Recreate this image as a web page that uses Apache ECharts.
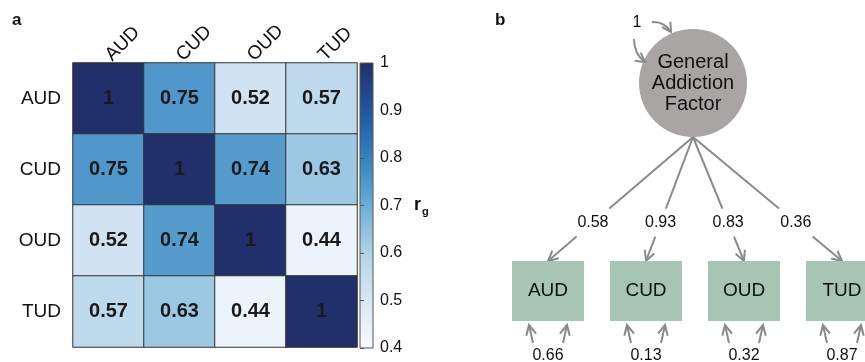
<!DOCTYPE html>
<html>
<head>
<meta charset="utf-8">
<script src="https://cdn.jsdelivr.net/npm/echarts@6/dist/echarts.min.js"></script>
<style>html,body{margin:0;padding:0;background:#fff}#c{width:865px;height:362px}</style>
</head>
<body>
<div id="c"></div>
<script>
// ---------- DATA ----------
const traits = ['AUD', 'CUD', 'OUD', 'TUD'];
const rgAUD = [1, 0.75, 0.52, 0.57];
const rgCUD = [0.75, 1, 0.74, 0.63];
const rgOUD = [0.52, 0.74, 1, 0.44];
const rgTUD = [0.57, 0.63, 0.44, 1];
const rgRows = [rgAUD, rgCUD, rgOUD, rgTUD];
const loadings = [0.58, 0.93, 0.83, 0.36];
const residuals = [0.66, 0.13, 0.32, 0.87];
const factorVariance = 1;
const factorName = 'General\nAddiction\nFactor';
const scaleMin = 0.4, scaleMax = 1.0;
const scaleColors = ['#f7fbff', '#d9e7f5', '#b3d3e8', '#6aaed6', '#3582c0', '#1f56a1', '#21306a'];

// ---------- LAYOUT (diagram, pixel space) ----------
const FONT = '"Liberation Sans", Arial, Helvetica, sans-serif';
const FAC = { x: 693, y: 83, r: 54 };
const BOX = { xs: [548, 646, 744, 842], cy: 291, w: 72, h: 60 };
const LABEL_T = 0.69;
const LINE_COL = '#8a8a8a';

const heatData = [];
rgRows.forEach((row, i) => row.forEach((v, j) => heatData.push([j, i, v])));

const chart = echarts.init(document.getElementById('c'), null, { renderer: 'canvas' });

function chevron(tip, dir, len, half) {
  const nx = -dir[1], ny = dir[0];
  const bx = tip[0] - dir[0] * len, by = tip[1] - dir[1] * len;
  return {
    type: 'polyline',
    shape: { points: [[bx + nx * half, by + ny * half], tip, [bx - nx * half, by - ny * half]] },
    style: { stroke: LINE_COL, lineWidth: 2, fill: null, lineJoin: 'miter' }
  };
}
function unit(a, b) {
  const dx = b[0] - a[0], dy = b[1] - a[1], l = Math.hypot(dx, dy);
  return [dx / l, dy / l];
}
function txt(str, x, y, size, weight) {
  return {
    type: 'text',
    style: { text: str, x: x, y: y, fill: '#111', font: (weight || 'normal') + ' ' + size + 'px ' + FONT,
      align: 'center', verticalAlign: 'middle', textAlign: 'center', textVerticalAlign: 'middle' }
  };
}

function renderDiagram(params, api) {
  const i = api.value(0), load = api.value(1), res = api.value(2);
  const P = (x, y) => api.coord([x, y]);
  const children = [];
  const F = P(FAC.x, FAC.y + FAC.r);
  const bx = BOX.xs[i];
  const T = P(bx, BOX.cy - BOX.h / 2);
  const d = unit(F, T);
  const L = [F[0] + (T[0] - F[0]) * LABEL_T, F[1] + (T[1] - F[1]) * LABEL_T];
  const dt = 14 / (T[1] - F[1]);
  const a0 = LABEL_T - dt, a1 = LABEL_T + dt;
  children.push({ type: 'line', shape: { x1: F[0], y1: F[1], x2: F[0] + (T[0] - F[0]) * a0, y2: F[1] + (T[1] - F[1]) * a0 },
    style: { stroke: LINE_COL, lineWidth: 2 } });
  children.push({ type: 'line', shape: { x1: F[0] + (T[0] - F[0]) * a1, y1: F[1] + (T[1] - F[1]) * a1, x2: T[0], y2: T[1] },
    style: { stroke: LINE_COL, lineWidth: 2 } });
  children.push(chevron(T, d, 10, 5));
  children.push(txt(String(load), L[0], L[1], 16));
  // box
  const tl = P(bx - BOX.w / 2, BOX.cy - BOX.h / 2), br = P(bx + BOX.w / 2, BOX.cy + BOX.h / 2);
  children.push({ type: 'rect', shape: { x: tl[0], y: tl[1], width: br[0] - tl[0], height: br[1] - tl[1] },
    style: { fill: '#a6c5b4' } });
  const C = P(bx, BOX.cy);
  children.push(txt(traits[i], C[0], C[1], 19));
  // residual arrows
  const bot = BOX.cy + BOX.h / 2;
  [-1, 1].forEach(s => {
    const tail = P(bx + s * 15, bot + 22), tip = P(bx + s * 19, bot + 4);
    children.push({ type: 'line', shape: { x1: tail[0], y1: tail[1], x2: tip[0], y2: tip[1] }, style: { stroke: LINE_COL, lineWidth: 2 } });
    children.push(chevron(tip, unit(tail, tip), 10, 5));
  });
  const R = P(bx, bot + 35);
  children.push(txt(String(res), R[0], R[1], 16));

  if (i === 0) {
    const FC = P(FAC.x, FAC.y);
    children.push({ type: 'circle', shape: { cx: FC[0], cy: FC[1], r: FAC.r }, style: { fill: '#a9a5a5' } });
    const lines = factorName.split('\n');
    lines.forEach((ln, k) => children.push(txt(ln, FC[0], FC[1] - 21 + k * 21, 20)));
    // variance loop
    const s1 = P(652, 22), c1 = P(664, 21), e1 = P(671, 32);
    children.push({ type: 'bezierCurve', shape: { x1: s1[0], y1: s1[1], cpx1: c1[0], cpy1: c1[1], x2: e1[0], y2: e1[1] },
      style: { stroke: LINE_COL, lineWidth: 2, fill: null } });
    children.push(chevron(e1, unit(c1, e1), 9, 5));
    const s2 = P(634, 39), c2 = P(634, 54), e2 = P(645, 62);
    children.push({ type: 'bezierCurve', shape: { x1: s2[0], y1: s2[1], cpx1: c2[0], cpy1: c2[1], x2: e2[0], y2: e2[1] },
      style: { stroke: LINE_COL, lineWidth: 2, fill: null } });
    children.push(chevron(e2, unit(c2, e2), 9, 5));
    const V = P(637, 23);
    children.push(txt(String(factorVariance), V[0], V[1], 16));
  }
  return { type: 'group', children: children };
}

const option = {
  animation: false,
  backgroundColor: '#fff',
  textStyle: { fontFamily: FONT },
  grid: [
    { left: 73, top: 63, width: 284, height: 284 },
    { left: 360, top: 63, width: 13, height: 285, show: true, borderColor: '#555', borderWidth: 1,
      backgroundColor: new echarts.graphic.LinearGradient(0, 0, 0, 1,
        scaleColors.slice().reverse().map((c, k) => ({ offset: k / (scaleColors.length - 1), color: c }))) },
    { left: 0, top: 0, width: 865, height: 362 }
  ],
  xAxis: [
    { gridIndex: 0, type: 'category', data: traits, position: 'top',
      axisLine: { show: false }, axisTick: { show: false },
      axisLabel: { rotate: -45, fontSize: 19, color: '#111', margin: 5, fontFamily: FONT } },
    { gridIndex: 1, type: 'value', show: false },
    { gridIndex: 2, type: 'value', min: 0, max: 865, show: false }
  ],
  yAxis: [
    { gridIndex: 0, type: 'category', data: traits, inverse: true,
      axisLine: { show: false }, axisTick: { show: false },
      axisLabel: { fontSize: 19, color: '#111', margin: 12, fontFamily: FONT } },
    { gridIndex: 1, type: 'value', position: 'right', min: scaleMin, max: scaleMax, interval: 0.1,
      axisLine: { show: false }, splitLine: { show: false },
      axisTick: { show: true, length: 4, lineStyle: { color: '#555' } },
      axisLabel: { fontSize: 16, color: '#111', margin: 7, fontFamily: FONT,
        formatter: v => String(Math.round(v * 10) / 10) },
      name: '{r|r}{g|g}', nameLocation: 'middle', nameRotate: 0, nameGap: 41,
      nameTextStyle: { rich: {
        r: { fontSize: 18, fontWeight: 'bold', color: '#111', fontFamily: FONT },
        g: { fontSize: 11, fontWeight: 'bold', color: '#111', fontFamily: FONT, padding: [12, 0, 0, 1] } } } },
    { gridIndex: 2, type: 'value', min: 0, max: 362, inverse: true, show: false }
  ],
  visualMap: {
    type: 'continuous', min: scaleMin, max: scaleMax, show: false, seriesIndex: 0,
    inRange: { color: scaleColors }
  },
  graphic: [
    { type: 'text', left: 12, top: 12, style: { text: 'a', font: 'bold 17px ' + FONT, fill: '#111' } },
    { type: 'text', left: 495, top: 12, style: { text: 'b', font: 'bold 17px ' + FONT, fill: '#111' } }
  ],
  series: [
    { type: 'heatmap', xAxisIndex: 0, yAxisIndex: 0, data: heatData,
      itemStyle: { borderColor: '#333', borderWidth: 1 },
      label: { show: true, fontSize: 20, fontWeight: 'bold', color: '#1a1a1a', fontFamily: FONT,
        formatter: p => String(p.data[2]) } },
    { type: 'scatter', xAxisIndex: 1, yAxisIndex: 1, data: [] },
    { type: 'custom', xAxisIndex: 2, yAxisIndex: 2, renderItem: renderDiagram,
      data: traits.map((t, i) => [i, loadings[i], residuals[i]]), encode: { x: 0, y: 1 } }
  ]
};
chart.setOption(option);
</script>
</body>
</html>
